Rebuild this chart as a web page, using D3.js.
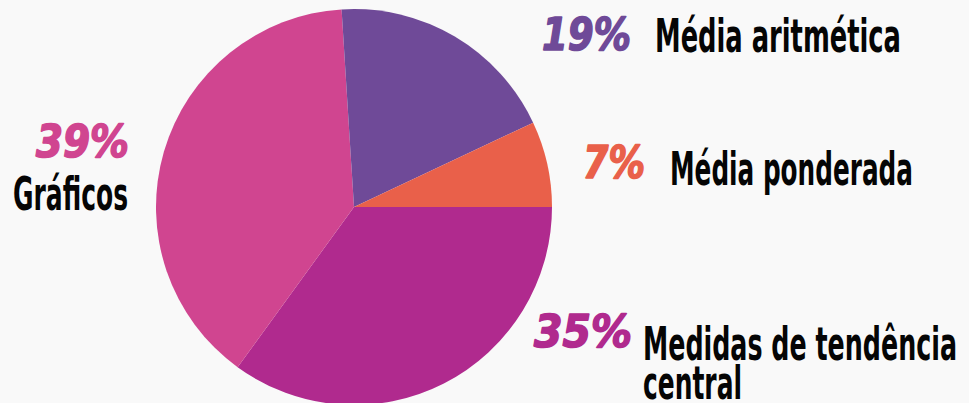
<!DOCTYPE html>
<html><head><meta charset="utf-8">
<script src="https://cdn.jsdelivr.net/npm/d3@7"></script>
<style>
html,body{margin:0;padding:0;background:#f9f9f9;}
svg{display:block;}
.lbl{font-family:"Liberation Sans Narrow","DejaVu Sans Condensed",sans-serif;font-weight:bold;fill:#050505;}
.pct{font-family:"DejaVu Sans",sans-serif;font-weight:bold;font-style:italic;stroke-width:1.6;stroke-linejoin:round;}
</style></head>
<body>
<script>
const categories = ["Medidas de tendência central", "Gráficos", "Média aritmética", "Média ponderada"];
const values = [35, 39, 19, 7];
const colors = ["#b02a8e", "#d04590", "#6f4a98", "#e9604a"];
const pctLabels = ["35%", "39%", "19%", "7%"];

const W = 969, H = 403;
const svg = d3.select("body").append("svg").attr("width", W).attr("height", H);
svg.append("rect").attr("width", W).attr("height", H).attr("fill", "#f9f9f9");

const cx = 354, cy = 207, R = 198;
const pie = d3.pie().sort(null).value(d => d).startAngle(Math.PI/2).endAngle(Math.PI/2 + 2*Math.PI);
const arc = d3.arc().innerRadius(0).outerRadius(R);
const g = svg.append("g").attr("transform", `translate(${cx},${cy})`);
g.selectAll("path").data(pie(values)).join("path")
  .attr("d", arc).attr("fill", (d,i) => colors[i]);

const layout = [
  {px:632, py:347, pw:98, lines:[[643,360,314,"Medidas de tendência"],[643,399,99,"central"]]},
  {px:129, py:157, pw:93, lines:[[13,210,115,"Gráficos"]]},
  {px:631, py:50, pw:89, lines:[[655,52,246,"Média aritmética"]]},
  {px:645, py:178, pw:62, lines:[[670,185,243,"Média ponderada"]]}
];
layout.forEach((L,i) => {
  svg.append("text").attr("class","pct")
    .attr("x", L.px - L.pw).attr("y", L.py)
    .attr("font-size", 44)
    .attr("textLength", L.pw).attr("lengthAdjust","spacingAndGlyphs")
    .attr("fill", colors[i]).attr("stroke", colors[i]).text(pctLabels[i]);
  L.lines.forEach(([x,y,w,t]) => {
    svg.append("text").attr("class","lbl")
      .attr("x", x).attr("y", y).attr("font-size", 47)
      .attr("textLength", w).attr("lengthAdjust","spacingAndGlyphs")
      .text(t);
  });
});
</script>
</body></html>
